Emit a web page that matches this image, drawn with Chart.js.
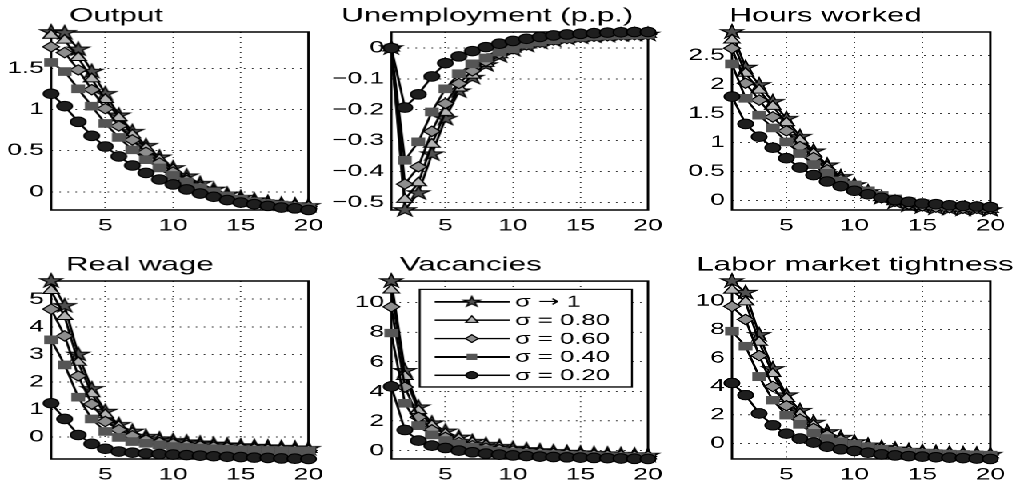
<!DOCTYPE html>
<html>
<head>
<meta charset="utf-8">
<title>Impulse responses</title>
<script src="https://cdn.jsdelivr.net/npm/chart.js@4.4.1/dist/chart.umd.min.js"></script>
<style>
  html, body { margin:0; padding:0; background:#fff; overflow:hidden; width:1016px; height:481px; }
  #fig { position:absolute; left:0; top:0; height:481px; transform-origin:0 0; }
  .panel { position:absolute; }
  .panel canvas { display:block; }
</style>
</head>
<body>
<div id="fig"></div>
<script>
// ---- data ----
const periods = [1,2,3,4,5,6,7,8,9,10,11,12,13,14,15,16,17,18,19,20];
const sigmaLabels = ['σ → 1', 'σ = 0.80', 'σ = 0.60', 'σ = 0.40', 'σ = 0.20'];
const xTicks = [5, 10, 15, 20];

const outputTicks = [0, 0.5, 1, 1.5];
const outputS100 = [1.94,1.93,1.73,1.46,1.19,0.93,0.73,0.56,0.42,0.29,0.19,0.10,0.03,-0.03,-0.07,-0.10,-0.13,-0.15,-0.16,-0.17];
const outputS080 = [1.90,1.84,1.63,1.37,1.12,0.90,0.69,0.53,0.39,0.27,0.16,0.08,0.01,-0.04,-0.08,-0.11,-0.13,-0.15,-0.16,-0.17];
const outputS060 = [1.76,1.69,1.48,1.24,1.01,0.80,0.63,0.48,0.35,0.24,0.14,0.06,0.00,-0.05,-0.09,-0.12,-0.14,-0.16,-0.17,-0.18];
const outputS040 = [1.57,1.46,1.25,1.04,0.83,0.66,0.51,0.39,0.29,0.20,0.12,0.05,0.00,-0.05,-0.09,-0.12,-0.14,-0.16,-0.18,-0.19];
const outputS020 = [1.19,1.04,0.85,0.68,0.55,0.43,0.32,0.23,0.15,0.09,0.03,-0.02,-0.06,-0.10,-0.13,-0.15,-0.17,-0.19,-0.20,-0.22];

const unempTicks = [-0.5, -0.4, -0.3, -0.2, -0.1, 0];
const unempS100 = [0,-0.525,-0.470,-0.344,-0.229,-0.140,-0.096,-0.055,-0.026,-0.006,0.008,0.018,0.025,0.031,0.035,0.038,0.040,0.042,0.043,0.044];
const unempS080 = [0,-0.491,-0.437,-0.312,-0.209,-0.130,-0.088,-0.050,-0.022,-0.004,0.009,0.019,0.026,0.031,0.035,0.038,0.040,0.042,0.043,0.044];
const unempS060 = [0,-0.441,-0.385,-0.270,-0.180,-0.115,-0.074,-0.043,-0.018,-0.002,0.010,0.019,0.026,0.031,0.035,0.038,0.040,0.042,0.043,0.044];
const unempS040 = [0,-0.364,-0.304,-0.207,-0.132,-0.083,-0.051,-0.032,-0.013,-0.002,0.012,0.020,0.027,0.032,0.036,0.039,0.041,0.042,0.043,0.044];
const unempS020 = [0,-0.193,-0.150,-0.092,-0.049,-0.027,-0.010,0.003,0.014,0.023,0.030,0.036,0.041,0.044,0.046,0.048,0.050,0.051,0.052,0.052];

const hoursTicks = [0, 0.5, 1, 1.5, 2, 2.5];
const hoursS100 = [2.90,2.29,1.99,1.70,1.41,1.10,0.85,0.61,0.41,0.27,0.15,0.05,-0.03,-0.08,-0.11,-0.13,-0.14,-0.15,-0.15,-0.16];
const hoursS080 = [2.76,2.19,1.90,1.62,1.34,1.04,0.81,0.58,0.39,0.26,0.14,0.05,-0.02,-0.07,-0.10,-0.12,-0.13,-0.14,-0.14,-0.15];
const hoursS060 = [2.62,2.02,1.73,1.44,1.20,0.93,0.74,0.53,0.36,0.24,0.13,0.05,-0.01,-0.06,-0.09,-0.11,-0.12,-0.13,-0.13,-0.14];
const hoursS040 = [2.35,1.76,1.47,1.25,1.01,0.81,0.62,0.47,0.34,0.27,0.17,0.09,0.03,-0.02,-0.05,-0.07,-0.09,-0.10,-0.11,-0.12];
const hoursS020 = [1.79,1.32,1.10,0.91,0.73,0.57,0.44,0.33,0.25,0.17,0.11,0.05,0.01,-0.02,-0.05,-0.06,-0.08,-0.09,-0.10,-0.11];

const wageTicks = [0, 1, 2, 3, 4, 5];
const wageS100 = [5.66,4.76,3.00,1.75,0.93,0.45,0.21,0.02,-0.07,-0.13,-0.18,-0.22,-0.26,-0.29,-0.32,-0.34,-0.36,-0.38,-0.40,-0.42];
const wageS080 = [5.31,4.37,2.71,1.57,0.81,0.39,0.14,-0.04,-0.12,-0.18,-0.23,-0.27,-0.30,-0.33,-0.36,-0.38,-0.40,-0.42,-0.44,-0.45];
const wageS060 = [4.64,3.67,2.22,1.20,0.57,0.27,0.05,-0.10,-0.19,-0.24,-0.29,-0.32,-0.35,-0.38,-0.40,-0.42,-0.44,-0.45,-0.47,-0.48];
const wageS040 = [3.53,2.62,1.45,0.66,0.21,-0.01,-0.16,-0.22,-0.28,-0.34,-0.37,-0.40,-0.42,-0.44,-0.46,-0.47,-0.48,-0.49,-0.50,-0.50];
const wageS020 = [1.23,0.66,0.08,-0.24,-0.42,-0.52,-0.56,-0.59,-0.61,-0.63,-0.65,-0.67,-0.69,-0.71,-0.72,-0.74,-0.75,-0.77,-0.78,-0.79];

const vacTicks = [0, 2, 4, 6, 8, 10];
const vacS100 = [11.47,5.40,2.94,1.86,1.31,0.90,0.61,0.41,0.27,0.14,0.05,-0.02,-0.08,-0.13,-0.17,-0.21,-0.24,-0.27,-0.30,-0.33];
const vacS080 = [10.86,5.02,2.71,1.70,1.13,0.79,0.53,0.35,0.22,0.10,0.02,-0.05,-0.10,-0.15,-0.19,-0.23,-0.26,-0.29,-0.32,-0.35];
const vacS060 = [9.73,4.30,2.26,1.40,0.90,0.55,0.33,0.18,0.07,-0.02,-0.09,-0.14,-0.19,-0.23,-0.26,-0.29,-0.32,-0.35,-0.37,-0.39];
const vacS040 = [7.96,3.21,1.70,1.06,0.68,0.45,0.23,0.05,-0.05,-0.12,-0.18,-0.23,-0.27,-0.31,-0.34,-0.37,-0.40,-0.42,-0.44,-0.46];
const vacS020 = [4.34,1.40,0.68,0.34,0.18,0.00,-0.11,-0.20,-0.27,-0.32,-0.36,-0.40,-0.43,-0.45,-0.47,-0.49,-0.51,-0.53,-0.55,-0.56];

const tightTicks = [0, 2, 4, 6, 8, 10];
const tightS100 = [11.41,10.60,7.63,5.23,3.39,2.29,1.46,0.80,0.40,0.09,-0.14,-0.31,-0.42,-0.52,-0.59,-0.65,-0.70,-0.74,-0.77,-0.80];
const tightS080 = [10.77,9.94,7.11,4.88,3.16,2.05,1.27,0.64,0.28,0.00,-0.20,-0.35,-0.46,-0.55,-0.62,-0.67,-0.72,-0.75,-0.78,-0.81];
const tightS060 = [9.63,8.71,6.17,4.00,2.64,1.70,1.04,0.57,0.24,0.00,-0.22,-0.37,-0.48,-0.57,-0.64,-0.69,-0.73,-0.76,-0.79,-0.82];
const tightS040 = [7.89,6.83,4.69,3.04,1.98,1.34,0.71,0.33,0.09,-0.07,-0.24,-0.42,-0.55,-0.63,-0.69,-0.73,-0.76,-0.79,-0.81,-0.83];
const tightS020 = [4.24,3.39,2.10,1.27,0.68,0.33,0.05,-0.24,-0.42,-0.54,-0.66,-0.78,-0.85,-0.90,-0.94,-0.98,-1.01,-1.04,-1.07,-1.10];

// ---- figure setup ----
const S = 1.6;                       // horizontal stretch of the whole figure
const FONT = '"Liberation Sans", Arial, Helvetica, sans-serif';
const ARROW_FONT = '"DejaVu Sans", sans-serif';
const fig = document.getElementById('fig');
fig.style.width = (1016 / S) + 'px';
fig.style.transform = 'scaleX(' + S + ')';

const markerStyles = [
  { shape: 'star',     radius: 7.3, fill: '#505050', edge: '#000' },
  { shape: 'triangle', radius: 5.8, fill: '#b4b4b4', edge: '#000' },
  { shape: 'rectRot',  radius: 5.2, fill: '#8e8e8e', edge: '#000' },
  { shape: 'rect',     radius: 5.4, fill: '#555555', edge: '#555555' },
  { shape: 'circle',   radius: 4.8, fill: '#1e1e1e', edge: '#000' }
];

// panel geometry in page pixels (after the stretch)
const panels = [
  { title: 'Output',                 series: [outputS100, outputS080, outputS060, outputS040, outputS020], ticks: outputTicks, l: 51,    r: 310, t: 32,  b: 210,   titleX: 69,    padL: 51, padR: 22 },
  { title: 'Unemployment (p.p.)',    series: [unempS100, unempS080, unempS060, unempS040, unempS020],       ticks: unempTicks,  l: 391.7, r: 650, t: 32,  b: 210,   titleX: 341.7, padL: 60, padR: 22 },
  { title: 'Hours worked',           series: [hoursS100, hoursS080, hoursS060, hoursS040, hoursS020],       ticks: hoursTicks,  l: 731.7, r: 990, t: 32,  b: 210,   titleX: 729,   padL: 60, padR: 26 },
  { title: 'Real wage',              series: [wageS100, wageS080, wageS060, wageS040, wageS020],            ticks: wageTicks,   l: 51,    r: 310, t: 281, b: 459,   titleX: 65.7,  padL: 51, padR: 22 },
  { title: 'Vacancies',              series: [vacS100, vacS080, vacS060, vacS040, vacS020],                 ticks: vacTicks,    l: 391.7, r: 650, t: 281, b: 458.5, titleX: 400,   padL: 60, padR: 22, legend: true },
  { title: 'Labor market tightness', series: [tightS100, tightS080, tightS060, tightS040, tightS020],       ticks: tightTicks,  l: 731.7, r: 990, t: 281, b: 458.5, titleX: 696,   padL: 60, padR: 26 }
];

function fmtTick(v) {
  return (v < 0 ? '\u2212' : '') + String(Math.abs(v));
}

// filled five-pointed star used as a point marker
function starImage(R, fill, edge, lw) {
  return new Promise(resolve => {
    const k = 4;
    const size = Math.ceil(2 * R + 2 * lw + 2);
    const c = document.createElement('canvas');
    c.width = size * k; c.height = size * k;
    const g = c.getContext('2d');
    g.scale(k, k);
    const cx = size / 2, cy = size / 2;
    g.beginPath();
    for (let i = 0; i < 10; i++) {
      const r = i % 2 ? R * 0.382 : R;
      const a = -Math.PI / 2 + i * Math.PI / 5;
      g.lineTo(cx + r * Math.cos(a), cy + r * Math.sin(a));
    }
    g.closePath();
    g.fillStyle = fill; g.fill();
    g.lineWidth = lw; g.strokeStyle = edge; g.lineJoin = 'miter'; g.stroke();
    const img = new Image();
    img.onload = () => { img.width = size; img.height = size; resolve(img); };
    img.src = c.toDataURL();
  });
}

function drawMarker(ctx, shape, r, x, y) {
  ctx.beginPath();
  if (shape === 'circle') {
    ctx.arc(x, y, r, 0, Math.PI * 2);
  } else if (shape === 'triangle') {
    for (let i = 0; i < 3; i++) {
      const a = i * 2 * Math.PI / 3;
      ctx.lineTo(x + Math.sin(a) * r, y - Math.cos(a) * r);
    }
  } else if (shape === 'rectRot') {
    ctx.moveTo(x - r, y); ctx.lineTo(x, y - r); ctx.lineTo(x + r, y); ctx.lineTo(x, y + r);
  } else if (shape === 'rect') {
    const h = r * Math.SQRT1_2;
    ctx.rect(x - h, y - h, 2 * h, 2 * h);
  }
  ctx.closePath();
  ctx.fill();
  ctx.stroke();
}

// title placed above each plot box
const panelTitle = {
  id: 'panelTitle',
  afterDraw(chart, args, o) {
    const ctx = chart.ctx;
    ctx.save();
    ctx.font = '19.5px ' + FONT;
    ctx.fillStyle = '#000';
    ctx.textAlign = 'left';
    ctx.textBaseline = 'alphabetic';
    ctx.fillText(o.text, o.x, chart.chartArea.top - 10.5);
    ctx.restore();
  }
};

// closed frame around the plotting area
const axesBox = {
  id: 'axesBox',
  beforeDatasetsDraw(chart) {
    const { ctx, chartArea: a } = chart;
    ctx.save();
    ctx.strokeStyle = '#000';
    ctx.lineWidth = 1.5;
    ctx.strokeRect(a.left, a.top, a.right - a.left, a.bottom - a.top);
    ctx.restore();
  }
};

let legendStar = null;

// legend label: the arrow is set in a font with a full-width arrow glyph
function drawLegendLabel(ctx, text, x, y) {
  const parts = text.split('→');
  ctx.font = '16px ' + FONT;
  ctx.fillText(parts[0], x, y);
  if (parts.length < 2) return;
  let cx = x + ctx.measureText(parts[0]).width;
  ctx.font = '16px ' + ARROW_FONT;
  ctx.fillText('→', cx, y);
  cx += ctx.measureText('→').width;
  ctx.font = '16px ' + FONT;
  ctx.fillText(parts[1], cx, y);
}

// boxed legend with line + marker samples
const sigmaLegend = {
  id: 'sigmaLegend',
  afterDatasetsDraw(chart, args, o) {
    if (!o || !o.show) return;
    const { ctx, chartArea: a } = chart;
    const lx = a.left + (420 - 391.7) / S;
    const ly = a.top + 8.3;
    const lw = (631.7 - 420) / S;
    const lh = 97.4;
    ctx.save();
    ctx.fillStyle = '#fff';
    ctx.fillRect(lx, ly, lw, lh);
    ctx.strokeStyle = '#000';
    ctx.lineWidth = 1.2;
    ctx.strokeRect(lx, ly, lw, lh);
    chart.data.datasets.forEach((ds, i) => {
      const y = ly + 12.4 + i * 18.33;
      ctx.beginPath();
      ctx.moveTo(lx + 15 / S, y);
      ctx.lineTo(lx + 90 / S, y);
      ctx.lineWidth = ds.borderWidth;
      ctx.strokeStyle = ds.borderColor;
      ctx.stroke();
      const m = markerStyles[i];
      const mx = lx + 52 / S;
      if (m.shape === 'star') {
        ctx.drawImage(legendStar, mx - legendStar.width / 2, y - legendStar.height / 2, legendStar.width, legendStar.height);
      } else {
        ctx.fillStyle = m.fill;
        ctx.strokeStyle = m.edge;
        ctx.lineWidth = 1;
        drawMarker(ctx, m.shape, m.radius * 0.75, mx, y);
      }
      ctx.fillStyle = '#000';
      ctx.textAlign = 'left';
      ctx.textBaseline = 'middle';
      drawLegendLabel(ctx, ds.label, lx + 95 / S, y + 0.5);
    });
    ctx.restore();
  }
};

Promise.all([starImage(7.3, '#505050', '#000', 1), starImage(5.4, '#505050', '#000', 1)]).then(([bigStar, smallStar]) => {
  legendStar = smallStar;
  const padT = 32, padB = 28;

  panels.forEach(p => {
    const leftA = p.l - p.padL;
    const div = document.createElement('div');
    div.className = 'panel';
    div.style.left = (leftA / S) + 'px';
    div.style.top = (p.t - padT) + 'px';
    div.style.width = ((p.r - leftA + p.padR) / S) + 'px';
    div.style.height = (p.b - p.t + padT + padB) + 'px';
    const cv = document.createElement('canvas');
    div.appendChild(cv);
    fig.appendChild(div);

    const all = [].concat(...p.series);
    const yMin = Math.min(...all);
    const yMax = Math.max(...all);

    const datasets = p.series.map((vals, i) => {
      const m = markerStyles[i];
      return {
        label: sigmaLabels[i],
        data: vals.map((v, j) => ({ x: periods[j], y: v })),
        order: 4 - i,
        borderColor: '#000',
        borderWidth: 1.5,
        tension: 0,
        fill: false,
        clip: false,
        pointStyle: m.shape === 'star' ? bigStar : m.shape,
        pointRadius: m.radius,
        pointBackgroundColor: m.fill,
        pointBorderColor: m.edge,
        pointBorderWidth: 1
      };
    });

    const grid = { drawTicks: false, color: '#3a3a3a', lineWidth: 1 };
    const border = { display: false, dash: [1, 4] };
    const tickFont = { family: FONT, size: 16.5 };

    new Chart(cv, {
      type: 'line',
      data: { datasets },
      options: {
        responsive: true,
        maintainAspectRatio: false,
        animation: false,
        devicePixelRatio: 2,
        events: [],
        layout: { padding: { top: padT, right: p.padR / S, left: 0, bottom: 0 } },
        plugins: {
          legend: { display: false },
          tooltip: { enabled: false },
          panelTitle: { text: p.title, x: (p.titleX - leftA) / S },
          sigmaLegend: { show: !!p.legend }
        },
        scales: {
          x: {
            type: 'linear', min: 1, max: 20,
            afterBuildTicks: s => { s.ticks = xTicks.map(v => ({ value: v })); },
            afterFit: s => { s.height = padB; },
            grid, border,
            ticks: { padding: 6, color: '#000', font: tickFont, maxRotation: 0, autoSkip: false, callback: fmtTick }
          },
          y: {
            type: 'linear', min: yMin, max: yMax,
            afterBuildTicks: s => { s.ticks = p.ticks.map(v => ({ value: v })); },
            afterFit: s => { s.width = p.padL / S; },
            grid, border,
            ticks: { padding: 4.5, color: '#000', font: tickFont, autoSkip: false, callback: fmtTick }
          }
        }
      },
      plugins: [panelTitle, axesBox, sigmaLegend]
    });
  });
});
</script>
</body>
</html>
